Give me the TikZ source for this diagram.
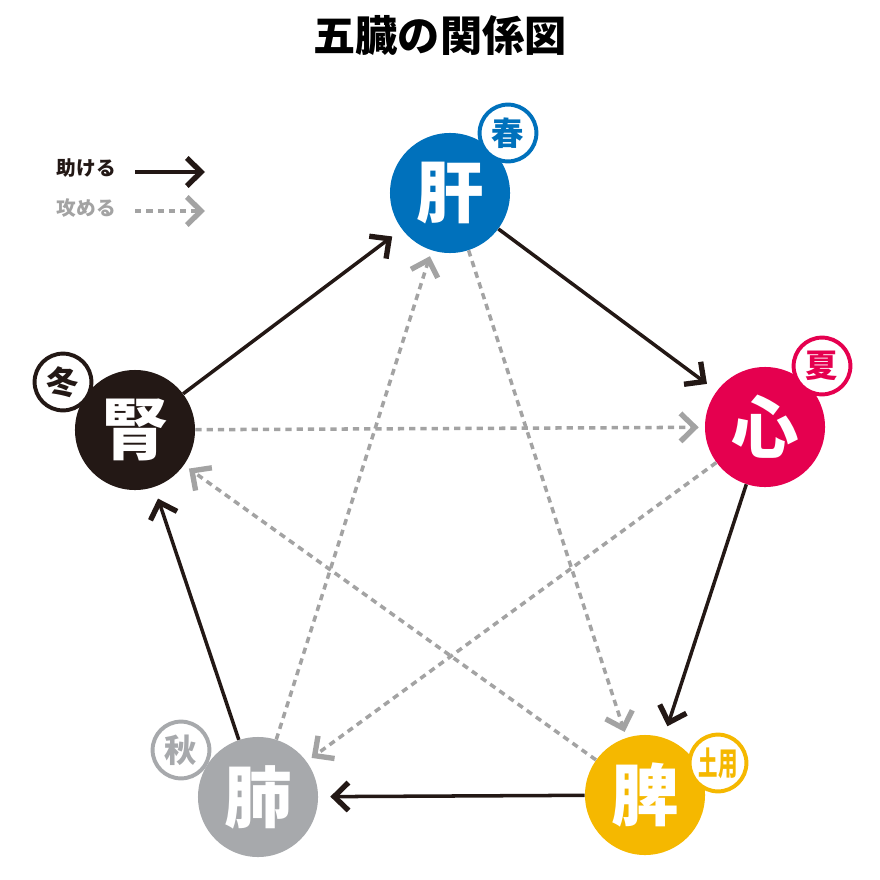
\documentclass[tikz,border=0pt]{standalone}
\usepackage{fontspec}
\setmainfont{Noto Sans CJK JP}
\usetikzlibrary{arrows.meta}
\definecolor{cblue}{HTML}{0071BC}
\definecolor{cred}{HTML}{E5004F}
\definecolor{cyel}{HTML}{F5B800}
\definecolor{cgray}{HTML}{A7A9AC}
\definecolor{cblk}{HTML}{231815}
\definecolor{dgray}{HTML}{A3A3A3}
\begin{document}
\begin{tikzpicture}[x=0.025cm,y=-0.025cm,
 organ/.style={circle,minimum size=3cm,inner sep=0,text=white,font=\bfseries\fontsize{48}{48}\selectfont},
 badge/.style={circle,minimum size=1.42cm,inner sep=0,fill=white,line width=2.8pt,font=\bfseries\fontsize{23}{23}\selectfont},
 tipS/.style={-{Straight Barb[length=3.6mm,width=7mm,line width=3.8pt]}},
 help/.style={cblk,line width=2.5pt,tipS,shorten >=0.3cm},
 atk/.style={dgray,line width=2.5pt,dash pattern=on 4.5pt off 3.5pt,tipS,shorten >=0.15cm}]
\useasboundingbox (0,0) rectangle (880,880);
\node[font=\bfseries\fontsize{30}{30}\selectfont] (title) at (440,35) {五臓の関係図};
\node[organ,fill=cblue] (kan) at (450,193) {肝};
\node[organ,fill=cred] (shin) at (765,427) {心};
\node[organ,fill=cyel] (hi) at (645,795) {脾};
\node[organ,fill=cgray] (hai) at (258,797) {肺};
\node[organ,fill=cblk] (jin) at (135,430) {腎};
\node[badge,draw=cblue,text=cblue] (haru) at (508,133) {春};
\node[badge,draw=cred,text=cred] (natsu) at (822,366) {夏};
\node[badge,draw=cyel,text=cyel] (doyo) at (718,763) {\scalebox{0.6}[1]{土用}};
\node[badge,draw=cgray,text=cgray] (aki) at (181,750) {秋};
\node[badge,draw=cblk,text=cblk] (fuyu) at (63,382) {冬};
% legend
\node[anchor=west,text=cblk,font=\bfseries\fontsize{14}{14}\selectfont] (l1) at (52,168) {助ける};
\coordinate (l1s) at (135,172);
\coordinate (l1e) at (205,172);
\draw[cblk,line width=2.5pt,tipS] (l1s) -- (l1e);
\node[anchor=west,text=dgray,font=\bfseries\fontsize{14}{14}\selectfont] (l2) at (52,208) {攻める};
\coordinate (l2s) at (135,211);
\coordinate (l2e) at (205,211);
\draw[dgray,line width=2.5pt,dash pattern=on 4.5pt off 3.5pt,tipS] (l2s) -- (l2e);
% helping
\draw[help] (jin) -- (kan);
\draw[help] (kan) -- (shin);
\draw[help] (shin) -- (hi);
\draw[help] (hi) -- (hai);
\draw[help] (hai) -- (jin);
% attacking
\draw[atk] (jin) -- (shin);
\draw[atk] (shin) -- (hai);
\draw[atk] (hai) -- (kan);
\draw[atk] (kan) -- (hi);
\draw[atk] (hi) -- (jin);
\end{tikzpicture}
\end{document}
